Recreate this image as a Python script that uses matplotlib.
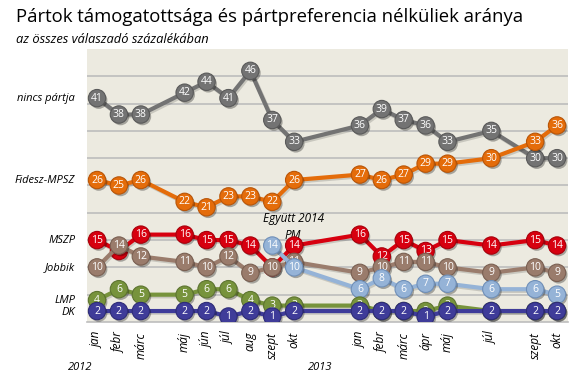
import matplotlib
matplotlib.use("Agg")
import matplotlib.pyplot as plt
import matplotlib.patheffects as pe

# ---- data ----
month_pos = [0, 1, 2, 4, 5, 6, 7, 8, 9, 12, 13, 14, 15, 16, 18, 20, 21]
month_labels = ["jan", "febr", "márc", "máj", "jún", "júl", "aug", "szept", "okt",
                "jan", "febr", "márc", "ápr", "máj", "júl", "szept", "okt"]
years = ["2012", "2013"]
year_pos = [-0.78, 10.2]

nincs = [41, 38, 38, 42, 44, 41, 46, 37, 33, 36, 39, 37, 36, 33, 35, 30, 30]
fidesz = [26, 25, 26, 22, 21, 23, 23, 22, 26, 27, 26, 27, 29, 29, 30, 33, 36]
mszp = [15, 13, 16, 16, 15, 15, 14, 10, 14, 16, 12, 15, 13, 15, 14, 15, 14]
jobbik = [10, 14, 12, 11, 10, 12, 9, 10, 11, 9, 10, 11, 11, 10, 9, 10, 9]
egyutt = [14, 10, 6, 8, 6, 7, 7, 6, 6, 5]          # from szept 2012
egyutt_start = 7
lmp = [4, 6, 5, 5, 6, 6, 4, 3, 3, 3, 2, 2, 2, 3, 2, 2, 2]
dk = [2, 2, 2, 2, 2, 1, 2, 1, 2, 2, 2, 2, 1, 2, 2, 2, 2]

series = [
    ("nincs pártja", month_pos, nincs, "#737373", "#5a5a5a"),
    ("Fidesz-MPSZ", month_pos, fidesz, "#E46C0A", "#b85508"),
    ("MSZP", month_pos, mszp, "#D7000F", "#a8000b"),
    ("Jobbik", month_pos, jobbik, "#9A7C6C", "#7a6052"),
    ("Együtt 2014-PM", month_pos[egyutt_start:], egyutt, "#95B3D7", "#6f8fb8"),
    ("LMP", month_pos, lmp, "#77933C", "#5d7430"),
    ("DK", month_pos, dk, "#3F3C99", "#2e2c78"),
]

fig = plt.figure(figsize=(5.72, 3.77), dpi=100)
ax = fig.add_axes([0.152, 0.146, 0.841, 0.724])
ax.set_facecolor("#ECEAE0")
ax.set_xlim(-0.46, 21.5)
ax.set_ylim(0, 50)
for g in range(5, 50, 5):
    ax.axhline(g, color="#BDBDBD", lw=1.2, zorder=0)
for s in ["top", "right", "left"]:
    ax.spines[s].set_visible(False)
ax.spines["bottom"].set_color("#BDBDBD")
ax.spines["bottom"].set_linewidth(1.2)
ax.set_yticks([])
ax.set_xticks(month_pos)
ax.set_xticklabels(month_labels, rotation=90, fontsize=8.5, style="italic",
                   family="Open Sans", va="top")
ax.tick_params(axis="x", length=0, pad=7)

line_shadow = [pe.SimpleLineShadow(offset=(1.0, -1.2), shadow_color="black", alpha=0.15), pe.Normal()]
mark_shadow = [pe.SimplePatchShadow(offset=(1.2, -1.5), shadow_rgbFace="black", alpha=0.3), pe.Normal()]
z = 2
for name, xs, ys, col, edge in series:
    ax.plot(xs, ys, color=col, lw=3.0, zorder=z, path_effects=line_shadow,
            solid_capstyle="round", solid_joinstyle="round")
    ax.plot(xs, ys, linestyle="none", marker="o", markersize=12.5,
            markerfacecolor=col, markeredgecolor=edge, markeredgewidth=0.8,
            zorder=z + 0.2, path_effects=mark_shadow)
    for x, y in zip(xs, ys):
        ax.text(x, y, str(y), ha="center", va="center", color="white",
                fontsize=7.5, family="Open Sans", zorder=z + 0.5)
    z += 1

# left series labels
left_labels = [("nincs pártja", 41), ("Fidesz-MPSZ", 26), ("MSZP", 15),
               ("Jobbik", 10), ("LMP", 4), ("DK", 1.8)]
for txt, y in left_labels:
    ax.text(-1.0, y, txt, ha="right", va="center", fontsize=8, style="italic",
            family="Open Sans", clip_on=False)

ax.text(8.95, 19.0, "Együtt 2014", ha="center", va="center", fontsize=8.5,
        style="italic", family="Open Sans")
ax.text(8.95, 15.9, "PM", ha="center", va="center", fontsize=8.5,
        style="italic", family="Open Sans")

for yr, xp in zip(years, year_pos):
    ax.text(xp, -8.3, yr, ha="center", va="center", fontsize=8, style="italic",
            family="Open Sans", clip_on=False)

fig.text(0.028, 0.955, "Pártok támogatottsága és pártpreferencia nélküliek aránya",
         fontsize=13.3, family="Open Sans", va="center", ha="left")
fig.text(0.028, 0.895, "az összes válaszadó százalékában", fontsize=9.3,
         family="Open Sans", style="italic", va="center", ha="left")

fig.savefig("out.png", dpi=100, facecolor="white")
